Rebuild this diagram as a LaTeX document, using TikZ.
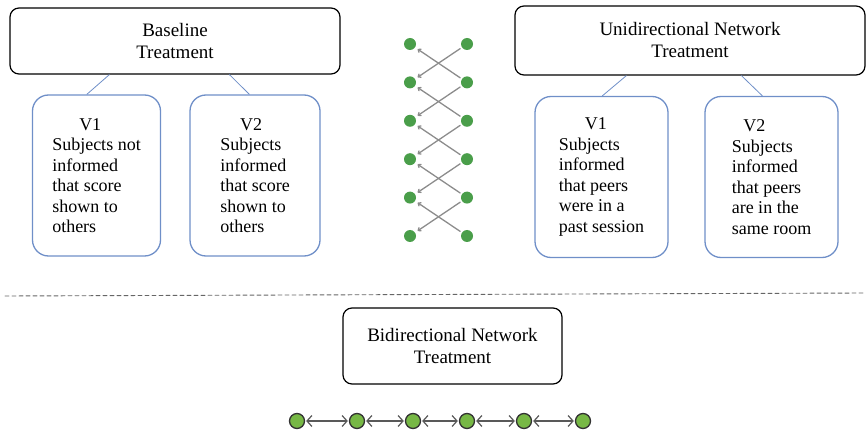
\documentclass[tikz,border=0pt]{standalone}
\usepackage{fontspec}
\setmainfont{Liberation Serif}
\usetikzlibrary{arrows.meta}
\definecolor{boxblue}{HTML}{6F8FC8}
\definecolor{dotgreen}{HTML}{4A9E4A}
\definecolor{chaingreen}{HTML}{77B845}
\tikzset{
	treat/.style={draw,rounded corners=9pt,line width=1.2pt,align=center,font=\fontsize{19}{22}\selectfont},
	variant/.style={draw=boxblue,rounded corners=16pt,line width=1.3pt,minimum width=128pt,minimum height=161pt,align=left,font=\fontsize{18}{20.5}\selectfont},
	link/.style={draw=boxblue,line width=0.8pt},
	netdot/.style={circle,fill=dotgreen,inner sep=0pt,minimum size=12pt},
	chaindot/.style={circle,fill=chaingreen,draw=black!80,line width=1.3pt,inner sep=0pt,minimum size=15pt},
	cross/.style={draw=black!45,line width=1.3pt,-{To[length=3.5pt,width=5pt]},shorten <=2pt,shorten >=3pt},
	bond/.style={draw=black!65,line width=1.2pt,{Straight Barb[length=5pt,width=11pt]}-{Straight Barb[length=5pt,width=11pt]},shorten <=1pt,shorten >=1pt}
}
\begin{document}
\begin{tikzpicture}[x=1pt,y=-1pt,line cap=round]
	\useasboundingbox (0,0) rectangle (867,430);
	% treatment boxes
	\node[treat,minimum width=330pt,minimum height=66pt] (base) at (175,41) {Baseline\\Treatment};
	\node[treat,minimum width=350pt,minimum height=69pt] (uni) at (690,40.5) {Unidirectional Network\\Treatment};
	\node[treat,minimum width=219pt,minimum height=76pt] (bi) at (452.5,346) {Bidirectional Network\\Treatment};
	% variants
	\node[variant] (base1) at (96.5,175.5) {\hspace*{1.5em}V1\\Subjects not\\informed\\that score\\shown to\\others};
	\node[variant,minimum width=130pt] (base2) at (255,175.5) {\hspace*{1.1em}V2\\Subjects\\informed\\that score\\shown to\\others};
	\node[variant,minimum width=133pt] (uni1) at (601.5,177) {\hspace*{1.45em}V1\\Subjects\\informed\\that peers\\were in a\\past session};
	\node[variant,minimum width=133pt] (uni2) at (771.5,177) {\hspace*{0.65em}V2\\Subjects\\informed\\that peers\\are in the\\same room};
	\draw[link] ([xshift=100pt]base.south west) -- ([xshift=55pt]base1.north west);
	\draw[link] ([xshift=220pt]base.south west) -- ([xshift=60pt]base2.north west);
	\draw[link] ([xshift=112pt]uni.south west) -- ([xshift=68pt]uni1.north west);
	\draw[link] ([xshift=227pt]uni.south west) -- ([xshift=58pt]uni2.north west);
	% crossing network
	\foreach \i in {0,...,5}{
		\node[netdot] (l\i) at (410,{44+38.4*\i}) {};
		\node[netdot] (r\i) at (467,{44+38.4*\i}) {};
	}
	\foreach \i [evaluate=\i as \j using int(\i+1)] in {0,...,4}{
		\draw[cross] (r\i) -- (l\j);
		\draw[cross] (r\j) -- (l\i);
	}
	% separator
	\draw[black!60,line width=0.9pt,dash pattern=on 4pt off 3pt] (5,296) -- (865,293);
	% chain
	\foreach \x [count=\k from 0] in {297,357,413,467,524,583}
		\node[chaindot] (c\k) at (\x,421) {};
	\foreach \k [evaluate=\k as \m using int(\k+1)] in {0,...,4}
		\draw[bond] (c\k) -- (c\m);
\end{tikzpicture}
\end{document}
